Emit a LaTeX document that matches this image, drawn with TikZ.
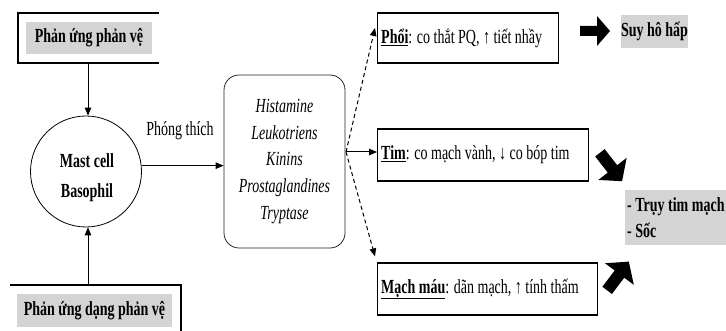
\documentclass[tikz,border=0pt]{standalone}
\usepackage{fontspec}
\setmainfont{Liberation Serif}[FakeStretch=0.70]
\usetikzlibrary{arrows.meta}
\definecolor{fillgray}{RGB}{212,212,212}
\begin{document}
\begin{tikzpicture}[x=1pt,y=-1pt,
  font=\fontsize{20}{26}\selectfont,
  arr/.style={line width=1pt,-{Triangle[length=8pt,width=6.5pt]}},
  dashedarr/.style={arr,dash pattern=on 4pt off 3pt},
  frame/.style={line width=1.3pt},
  graybox/.style={fill=fillgray,inner sep=0pt,font=\bfseries\fontsize{20}{26}\selectfont},
  organbox/.style={draw,line width=1.2pt,anchor=west,inner sep=0pt},
  organtext/.style={anchor=west,inner sep=0pt},
  medbox/.style={draw,line width=0.8pt,draw=black!85,rounded corners=15pt,minimum width=121pt,minimum height=173pt,align=center,font=\itshape\fontsize{20}{26.7}\selectfont},
  blockarr/.pic={\fill[black] (-15,-5) -- (2,-5) -- (2,-15) -- (15,0) -- (2,15) -- (2,5) -- (-15,5) -- cycle;}
]
\useasboundingbox (0,0) rectangle (726,331);

% left inputs
\node[graybox,minimum width=126pt,minimum height=32pt] (pv) at (89,38) {Phản ứng phản vệ};
\draw[frame] (159,13) -- (18,13) -- (18,63) -- (159,63);
\coordinate (tbot) at (88,63);

\node[graybox,minimum width=155pt,minimum height=33pt] (dpv) at (94.5,310.5) {Phản ứng dạng phản vệ};
\draw[frame] (10,285) -- (181,285) -- (181,331);
\coordinate (btop) at (88,285);

% cell
\node[draw,circle,line width=0.8pt,minimum size=111pt,inner sep=0pt] (mc) at (86,171.5) {};
\node[align=center,font=\bfseries\fontsize{20}{30}\selectfont] (mctext) at (87,177.5) {Mast cell\\Basophil};

\draw[arr] (tbot) -- (tbot |- mc.north);
\draw[arr] (btop) -- (btop |- mc.south);

% mediators
\node[medbox] (med) at (284.5,161.5) {Histamine\\Leukotriens\\Kinins\\Prostaglandines\\Tryptase};
\draw[arr] (mc.6) -- (mc.6 -| med.west);
\node (pt) at (180,131) {Phóng thích};

% organs
\node[organbox,minimum width=181pt,minimum height=50pt] (phoi) at (377,38) {};
\node[organtext] (phoitext) at ([xshift=4pt]phoi.west) {\underline{\textbf{Phổi}}: co thắt PQ, ↑ tiết nhầy};
\node[organbox,minimum width=211pt,minimum height=52pt] (tim) at (377,155) {};
\node[organtext] (timtext) at ([xshift=4pt]tim.west) {\underline{\textbf{Tim}}: co mạch vành, ↓ co bóp tim};
\node[organbox,minimum width=220pt,minimum height=52pt] (mm) at (377,289) {};
\node[organtext] (mmtext) at ([xshift=4pt]mm.west) {\underline{\textbf{Mạch máu}}: dãn mạch, ↑ tính thấm};

\coordinate (br) at (346,152);
\draw[dashedarr] (br) -- ([xshift=-2pt,yshift=10pt]phoi.west);
\draw[arr] (br) -- (br -| tim.west);
\draw[dashedarr] (br) -- ([xshift=-2pt,yshift=6pt]mm.north west);

% outcomes
\node[graybox,minimum width=65pt,minimum height=33pt] (suy) at (654.5,31.5) {Suy hô hấp};
\node[graybox,minimum width=101pt,minimum height=55pt,anchor=west] (soc) at (625,217.5) {};
\node[anchor=west,inner sep=0pt,align=left,font=\bfseries\fontsize{20}{26}\selectfont] (soctext) at ([xshift=2pt]soc.west) {- Trụy tim mạch\\- Sốc};

\pic at (595,31) {blockarr};
\pic[rotate=-52,scale=1.2] at (611,167) {blockarr};
\pic[rotate=53,scale=1.2] at (618,276) {blockarr};
\end{tikzpicture}
\end{document}
